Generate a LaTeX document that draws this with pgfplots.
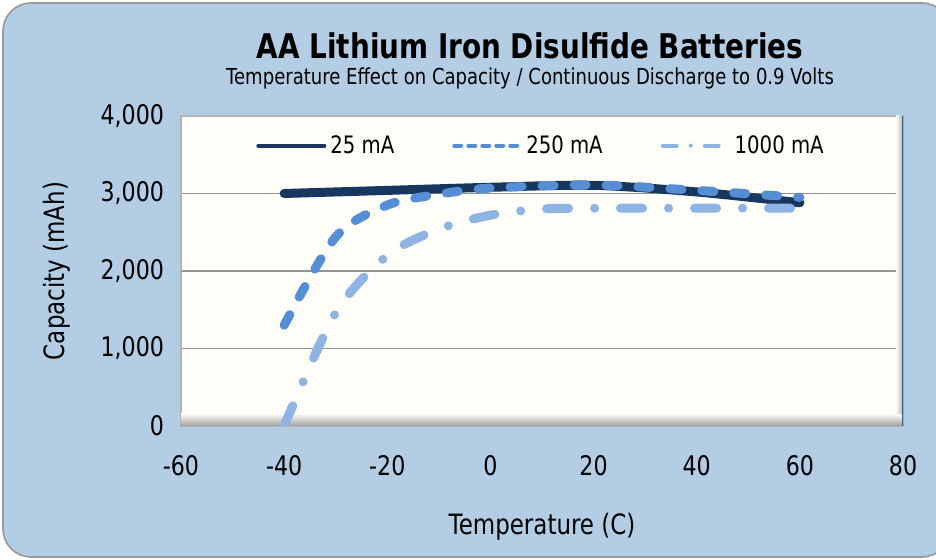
\documentclass[border=0pt]{standalone}
\usepackage{pgfplots}
\pgfplotsset{compat=1.18}
\usepackage{fontspec}
\setmainfont{DejaVu Sans}[FakeStretch=0.82]
\definecolor{BgBlue}{HTML}{B3CDE5}
\definecolor{Plot25}{HTML}{17375E}
\definecolor{Plot250}{HTML}{558ED5}
\definecolor{Plot1000}{HTML}{8EB4E3}
\definecolor{PlotFill}{HTML}{FFFDF8}

\pgfplotstableread{
temp cap
-40 3000
-20 3040
0   3080
20  3105
40  3020
60  2880
}\lowrate
\pgfplotstableread{
temp cap
-40 1300
-30 2440
-20 2850
-10 2990
0   3070
20  3110
40  3040
60  2950
}\midrate
\pgfplotstableread{
temp cap
-40 0
-30 1460
-20 2200
-10 2540
0   2720
10  2800
20  2810
40  2810
60  2810
}\highrate

\begin{document}
\begin{tikzpicture}
% chart frame, 1 px = 0.5 pt
\path[use as bounding box] (0pt,0pt) rectangle (468pt,280pt);
\fill[BgBlue,draw=gray!80,line width=0.8pt,rounded corners=14pt]
  (1.5pt,1.5pt) rectangle (475pt,278.5pt);
\node[font=\bfseries\fontsize{17}{19}\selectfont] at (265pt,257pt) {AA Lithium Iron Disulfide Batteries};
\node[font=\fontsize{11}{13}\selectfont] at (265pt,241pt) {Temperature Effect on Capacity / Continuous Discharge to 0.9 Volts};
\begin{axis}[
  at={(90.5pt,67pt)},anchor=south west,
  scale only axis,
  width=361pt,height=155pt,
  xmin=-60,xmax=80,ymin=0,ymax=4000,
  xtick={-60,-40,...,80},
  ytick={0,1000,...,4000},
  axis background/.style={fill=PlotFill},
  axis line style={draw=gray!60,line width=0.8pt},
  tick style={draw=none},
  ymajorgrids,
  grid style={gray!85,line width=0.8pt},
  scaled y ticks=false,
  /pgf/number format/assume math mode=true,
  /pgf/number format/.cd,1000 sep={,},
  /pgfplots/.cd,
  ticklabel style={font=\fontsize{13.5}{15}\selectfont},
  xticklabel style={yshift=-11pt},
  yticklabel style={xshift=-5pt},
  xlabel={Temperature (C)},
  ylabel={Capacity (mAh)},
  label style={font=\fontsize{14}{16}\selectfont},
  xlabel style={yshift=-12pt},
  ylabel style={yshift=8pt},
  legend columns=3,
  legend style={at={(0.5,0.965)},anchor=north,draw=none,fill=none,
    font=\fontsize{12}{14}\selectfont,
    /tikz/every even column/.append style={column sep=27pt}},
  legend image code/.code={\draw[#1] (0pt,0pt) -- (33pt,0pt);},
]
% bevel at the lower and right edges of the plot area
\fill[top color=PlotFill,bottom color=gray!75,draw=none]
  (rel axis cs:0,0) rectangle (rel axis cs:1,0.04);
\fill[left color=PlotFill,right color=gray!60,draw=none]
  (rel axis cs:0.99,0.04) rectangle (rel axis cs:1,1);
\draw[Plot25!80,line width=1.2pt] (rel axis cs:1,0) -- (rel axis cs:1,1);
\addplot[Plot25,line width=4.5pt,line cap=round,smooth,
  legend image post style={line width=2pt}] table[x=temp,y=cap] {\lowrate};
\addlegendentry{25 mA}
\addplot[Plot250,line width=4.5pt,line cap=round,smooth,
  dash pattern=on 6pt off 10pt,
  legend image post style={line width=2pt,dash pattern=on 3.5pt off 3.5pt}] table[x=temp,y=cap] {\midrate};
\addlegendentry{250 mA}
\addplot[Plot1000,line width=4.5pt,line cap=round,smooth,
  dash pattern=on 11pt off 13pt on 0pt off 13pt,
  legend image post style={line width=2pt,dash pattern=on 7pt off 7pt on 0pt off 7pt}] table[x=temp,y=cap] {\highrate};
\addlegendentry{1000 mA}
\end{axis}
\end{tikzpicture}
\end{document}
